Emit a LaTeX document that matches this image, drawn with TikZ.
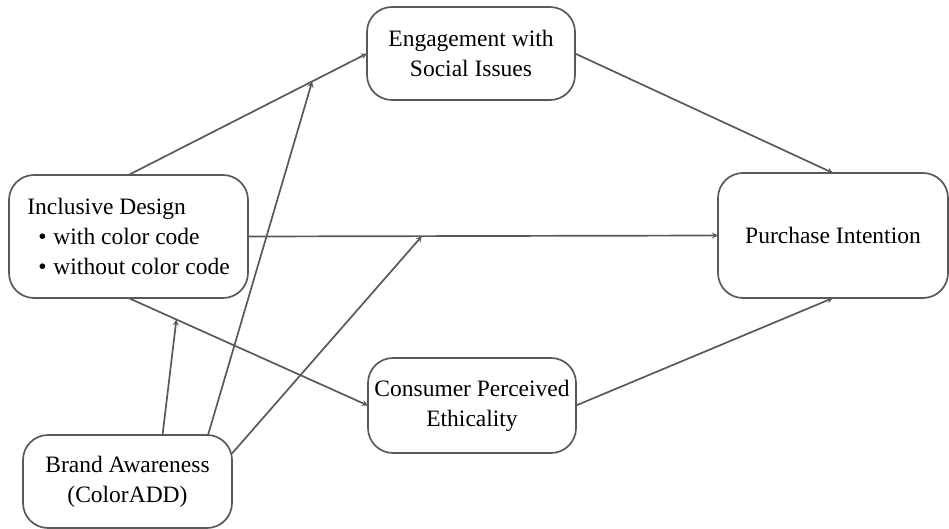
\documentclass[tikz,border=0pt]{standalone}
\usepackage{fontspec}
\setmainfont{LiberationSerif}[Extension=.ttf, UprightFont=*-Regular, BoldFont=*-Bold]
\usepackage{tikz}
\usetikzlibrary{arrows, positioning}

\begin{document}
\begin{tikzpicture}[
    x=1pt, y=-1pt,
    factor/.style={rectangle, rounded corners=25pt, draw=black!65, line width=1.7pt, outer sep=0pt, inner sep=0pt, font=\fontsize{23.5}{30}\selectfont, align=center},
    arrow/.style={->, >=stealth, draw=black!65, line width=1.7pt}
]
\useasboundingbox (0,0) rectangle (949,529);

\node[factor, minimum width=239pt, minimum height=123pt, align=left] (design) at (128.5,236.5) {Inclusive Design\\\hspace{11pt}\textbullet\hspace{7pt}with color code\\\hspace{11pt}\textbullet\hspace{7pt}without color code};
\node[factor, minimum width=208pt, minimum height=93pt] (engage) at (471,53.5) {Engagement with\\Social Issues};
\node[factor, minimum width=208pt, minimum height=95pt] (ethic) at (472,405.5) {Consumer Perceived\\Ethicality};
\node[factor, minimum width=230pt, minimum height=125pt] (intent) at (833,235.5) {Purchase Intention};
\node[factor, minimum width=209pt, minimum height=93pt] (brand) at (127.5,481.5) {Brand Awareness\\(ColorADD)};

% direct and mediated paths
\draw[arrow] (design.north) -- coordinate[pos=0.77] (m1) (engage.west);
\draw[arrow] (design.east) -- coordinate[pos=0.37] (m3) (intent.west);
\draw[arrow] (design.south) -- coordinate[pos=0.2] (m2) (ethic.west);
\draw[arrow] (engage.east) -- (intent.north);
\draw[arrow] (ethic.east) -- (intent.south);

% moderation by brand awareness
\draw[arrow] (brand.53) -- (m2);
\draw[arrow] (brand.30) -- (m1);
\draw[arrow] (brand.15) -- (m3);

\end{tikzpicture}
\end{document}
